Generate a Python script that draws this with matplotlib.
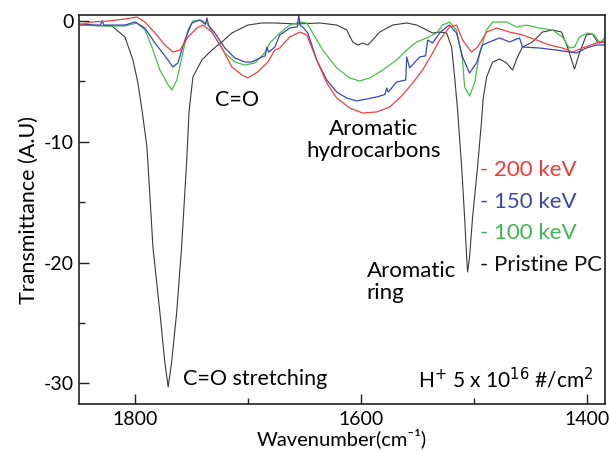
import matplotlib
matplotlib.use("Agg")
import matplotlib.pyplot as plt
from matplotlib.ticker import MultipleLocator

plt.rcParams['font.family'] = ['Lato', 'DejaVu Sans']
plt.rcParams['axes.unicode_minus'] = False

# ---- data (wavenumber cm^-1, transmittance A.U.) ----
pristine_x = [1850, 1820.8, 1809.3, 1802.2, 1797.8, 1794.2, 1789.8, 1784.5, 1778.3, 1773.9, 1771.0,
              1768.0, 1763.5, 1759.1, 1754.7, 1752.5, 1749.1, 1741.1, 1732.3, 1723.4, 1714.6, 1700.4,
              1688.0, 1676.5, 1657.1, 1636.7, 1621.7, 1612.8, 1607.5, 1603.1, 1598.7, 1594.2, 1589.8,
              1583.6, 1572.1, 1559.7, 1550.9, 1542.0, 1536.7, 1530.5, 1524.3, 1519.9, 1517.2, 1514.6,
              1511.0, 1508.4, 1506.6, 1505.7, 1504.0, 1501.3, 1496.9, 1493.3, 1492.0, 1488.9, 1483.6,
              1477.4, 1471.2, 1465.9, 1461.5, 1457.1, 1448.2, 1439.4, 1430.5, 1422.5, 1417.3, 1411.0,
              1406.6, 1400.5, 1395.1, 1390.7, 1386.3, 1383]
pristine_y = [-0.35, -0.43, -1.34, -3.24, -5.14, -7.38, -10.44, -18.71, -24.17, -28.30, -30.29,
              -28.30, -24.17, -18.71, -11.76, -7.5, -4.65, -3.24, -2.42, -1.75, -1.01, -0.35,
              -0.18, -0.18, -0.26, -0.18, -0.35, -0.76, -1.75, -2.00, -1.84, -2.00, -1.59,
              -0.93, -0.35, -0.18, -0.35, -0.76, -1.01, -0.93, -1.01, -2.17, -4.65, -7.38,
              -12.09, -16.23, -19.54, -20.78, -19.54, -16.23, -12.09, -8.21, -6.5, -4.65, -3.41,
              -3.16, -3.49, -4.07, -2.99, -2.17, -1.75, -0.93, -0.76, -0.93, -2.17, -3.99,
              -2.66, -1.17, -1.09, -1.75, -1.75, -1.6]

kev100_x = [1850, 1824.3, 1809.3, 1798.7, 1791.6, 1785.4, 1778.3, 1772.1, 1767.7, 1763.3, 1758.8,
            1753.5, 1749.1, 1742.9, 1736.7, 1729.6, 1720.8, 1711.9, 1703.1, 1694.2, 1685.4, 1681.0,
            1672.1, 1663.3, 1654.4, 1648.2, 1642.9, 1634.1, 1621.7, 1610.2, 1601.3, 1592.5, 1580.9,
            1568.6, 1559.7, 1550.9, 1542.0, 1533.2, 1527.9, 1521.7, 1515.5, 1510.2, 1508.4, 1504.0,
            1499.5, 1495.1, 1488.9, 1483.6, 1471.2, 1462.4, 1453.5, 1442.0, 1430.5, 1421.7, 1415.5,
            1411.0, 1406.6, 1399.6, 1393.3, 1388.9, 1384.5, 1382]
kev100_y = [-0.35, -0.43, -0.43, -0.18, -0.76, -2.17, -4.07, -5.14, -5.72, -4.90, -2.99,
            -0.76, -0.02, 0.07, -0.18, -1.34, -2.66, -3.41, -3.66, -3.49, -2.66, -1.84,
            -1.01, -0.35, -0.10, -0.18, -1.01, -2.42, -3.90, -4.73, -4.98, -4.73, -4.07,
            -3.24, -2.42, -1.75, -1.42, -1.01, -0.35, -0.10, -0.76, -3.24, -5.48, -6.22,
            -5.14, -2.66, -0.76, -0.10, -0.10, -0.51, -0.35, -0.60, -0.76, -1.34, -2.25,
            -2.17, -1.34, -1.01, -1.17, -1.84, -1.42, -0.9]

kev150_x = [1850, 1835.8, 1831, 1829.6, 1828, 1824.3, 1809.3, 1800.4, 1791.6, 1782.7, 1776.5,
            1771.2, 1766.8, 1762.4, 1756.2, 1750.0, 1742.9, 1738, 1736.7, 1735, 1729.6, 1720.8,
            1711.9, 1703.1, 1696.9, 1688.0, 1685, 1683.6, 1682, 1676.5, 1672.1, 1663.3, 1656.5,
            1655.3, 1654, 1651.8, 1647.3, 1639.4, 1630.5, 1621.7, 1612.8, 1604.0, 1595.1, 1586.3,
            1579, 1577.4, 1576, 1568.6, 1560.5, 1559.7, 1557.1, 1548.2, 1543, 1541.1, 1536.7,
            1530.5, 1524.3, 1521.7, 1515.5, 1510.2, 1504.0, 1497.8, 1492.5, 1486.3, 1477.4, 1468.6,
            1459.7, 1457.1, 1442.0, 1427.0, 1415.5, 1409.3, 1400.5, 1391.6, 1382.7]
kev150_y = [-0.26, -0.35, -0.35, 0.0, -0.35, -0.35, -0.35, -0.10, -0.60, -1.84, -2.58,
            -3.24, -3.82, -3.49, -1.59, -0.18, 0.07, -0.3, 0.23, -0.4, -1.01, -2.25,
            -3.08, -3.41, -3.41, -2.99, -2.9, -2.17, -2.6, -2.17, -1.17, -0.60, -0.5,
            0.5, -0.4, -0.51, -1.01, -3.24, -4.90, -5.89, -6.39, -6.63, -6.47, -6.30,
            -6.1, -5.56, -5.9, -5.06, -4.9, -2.99, -3.90, -2.99, -2.9, -1.59, -1.84,
            -1.01, -0.51, -0.35, -1.01, -2.99, -4.32, -3.49, -2.00, -1.75, -1.42, -1.75,
            -1.42, -2.17, -2.25, -2.42, -2.58, -2.66, -2.25, -2.00, -2.00]

kev200_x = [1850, 1838.5, 1824.3, 1809.3, 1798.7, 1791.6, 1782.7, 1773.9, 1766.8, 1760.6, 1753.5,
            1745.6, 1740.3, 1732.3, 1723.4, 1714.6, 1705.7, 1700.4, 1691.6, 1682.7, 1676.5, 1672.1,
            1663.3, 1654.4, 1648.2, 1639.4, 1630.5, 1621.7, 1610.2, 1598.7, 1586.3, 1574.7, 1563.3,
            1554.4, 1545.6, 1536.7, 1530.5, 1521.7, 1515.5, 1510.2, 1502.2, 1496.9, 1488.9, 1480.1,
            1468.6, 1457.1, 1444.7, 1433.2, 1421.7, 1412.8, 1404.0, 1391.6, 1382.7]
kev200_y = [-0.35, -0.10, -0.02, 0.15, 0.31, -0.10, -1.01, -2.00, -2.58, -2.42, -1.34,
            -0.60, -0.35, -0.93, -2.25, -3.82, -4.48, -4.73, -4.23, -3.41, -2.42, -2.25,
            -1.34, -0.93, -1.17, -3.24, -5.14, -6.39, -7.21, -7.63, -7.54, -7.13, -6.14,
            -5.14, -4.07, -2.66, -1.59, -0.51, -0.35, -1.59, -2.58, -2.17, -0.93, -0.60,
            -0.93, -1.17, -1.59, -2.00, -2.25, -2.58, -2.25, -1.84, -1.75]

legend_labels = ['- 200 keV', '- 150 keV', '- 100 keV', '- Pristine PC']
legend_colors = ['#ee3b3b', '#3a48a8', '#3fb455', '#111111']

x_ticks = [1800, 1600, 1400]
y_ticks = [0, -10, -20, -30]

fig = plt.figure(figsize=(6.09, 4.51), dpi=100)
ax = fig.add_axes([79/609, 1-404/451, (605-79)/609, (404-15)/451])

ax.plot(pristine_x, pristine_y, color='#3a3a3a', lw=0.8)
ax.plot(kev100_x, kev100_y, color='#4cbb4c', lw=0.9)
ax.plot(kev150_x, kev150_y, color='#3a48b0', lw=0.9)
ax.plot(kev200_x, kev200_y, color='#f04040', lw=0.9)

ax.set_xlim(1850, 1384)
ax.set_ylim(-31.7, 0.48)
ax.set_xticks(x_ticks)
ax.set_yticks(y_ticks)
ax.xaxis.set_minor_locator(MultipleLocator(100))
ax.yaxis.set_minor_locator(MultipleLocator(5))
ax.tick_params(which='both', direction='in', labelsize=14, color='#222222', width=1.0)
ax.tick_params(which='major', length=7)
ax.tick_params(which='minor', length=4)
ax.tick_params(axis='x', pad=5)
for s in ax.spines.values():
    s.set_linewidth(1.2)
    s.set_color('#222222')

ax.set_xlabel('Wavenumber(cm\u207b\u00b9)', fontsize=14.5, labelpad=0,
              family=['Lato', 'DejaVu Sans'])
ax.set_ylabel('Transmittance (A.U)', fontsize=15.5, labelpad=4)

tfs = 16
ax.text(1710, -6.55, 'C=O', fontsize=15.5, ha='center', va='center')
ax.text(1589, -9.86, 'Aromatic\nhydrocarbons', fontsize=tfs, ha='center', va='center', linespacing=1.15)
ax.text(1595, -21.6, 'Aromatic\nring', fontsize=tfs, ha='left', va='center', linespacing=1.15)
ax.text(1758, -29.6, 'C=O stretching', fontsize=15.5, ha='left', va='center')
ax.text(1394, -29.6, 'H$^{+}$ 5 x 10$^{16}$ #/cm$^{2}$', fontsize=15, ha='right', va='center')

legend_y = [-12.35, -14.95, -17.55, -20.2]
for lab, col, yy in zip(legend_labels, legend_colors, legend_y):
    ax.text(1495, yy, lab, fontsize=tfs, ha='left', va='center', color=col)

fig.savefig('out.png', dpi=100)
